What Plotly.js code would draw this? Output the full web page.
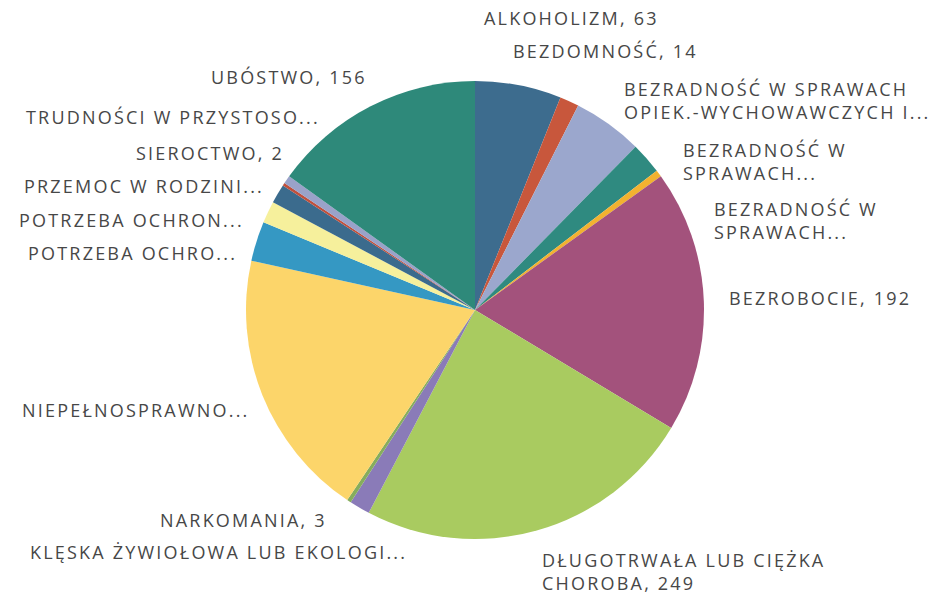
<!DOCTYPE html>
<html>
<head>
<meta charset="utf-8">
<script src="https://cdn.plot.ly/plotly-3.0.1.min.js"></script>
<style>html,body{margin:0;padding:0;background:#fff;}#chart{width:939px;height:595px;}
.annotation-text{letter-spacing:2.2px;}</style>
</head>
<body>
<div id="chart"></div>
<script>
// Data (clockwise from 12 o'clock)
const categories = [
  "ALKOHOLIZM",
  "BEZDOMNOŚĆ",
  "BEZRADNOŚĆ W SPRAWACH OPIEK.-WYCHOWAWCZYCH I PROWADZENIA GOSPODARSTWA DOMOWEGO",
  "BEZRADNOŚĆ W SPRAWACH OPIEK.-WYCHOWAWCZYCH - RODZINA NIEPEŁNA",
  "BEZRADNOŚĆ W SPRAWACH OPIEK.-WYCHOWAWCZYCH - RODZINA WIELODZIETNA",
  "BEZROBOCIE",
  "DŁUGOTRWAŁA LUB CIĘŻKA CHOROBA",
  "KLĘSKA ŻYWIOŁOWA LUB EKOLOGICZNA",
  "NARKOMANIA",
  "NIEPEŁNOSPRAWNOŚĆ",
  "POTRZEBA OCHRONY MACIERZYŃSTWA",
  "POTRZEBA OCHRONY MACIERZYŃSTWA - WIELODZIETNOŚĆ",
  "PRZEMOC W RODZINIE",
  "SIEROCTWO",
  "TRUDNOŚCI W PRZYSTOSOWANIU DO ŻYCIA PO ZWOLNIENIU Z ZAKŁADU KARNEGO",
  "UBÓSTWO"
];
const values = [63, 14, 51, 23, 5, 192, 249, 15, 3, 197, 29, 16, 14, 2, 6, 156];
const labelTexts = [
  "ALKOHOLIZM, 63",
  "BEZDOMNOŚĆ, 14",
  "BEZRADNOŚĆ W SPRAWACH<br>OPIEK.-WYCHOWAWCZYCH I...",
  "BEZRADNOŚĆ W<br>SPRAWACH...",
  "BEZRADNOŚĆ W<br>SPRAWACH...",
  "BEZROBOCIE, 192",
  "DŁUGOTRWAŁA LUB CIĘŻKA<br>CHOROBA, 249",
  "KLĘSKA ŻYWIOŁOWA LUB EKOLOGI...",
  "NARKOMANIA, 3",
  "NIEPEŁNOSPRAWNO...",
  "POTRZEBA OCHRO...",
  "POTRZEBA OCHRON...",
  "PRZEMOC W RODZINI...",
  "SIEROCTWO, 2",
  "TRUDNOŚCI W PRZYSTOSO...",
  "UBÓSTWO, 156"
];

// Styles / layout (not data)
const colors = ["#3d6c8e","#c8573c","#9ba7cd","#2f8a80","#f2b230","#a3527c","#a9cb60","#8a7bb8","#86ad5c","#fcd56a","#3598c3","#f6f09c","#3b6b8d","#c0503c","#9aa2c9","#2e897a"];
// [x px, y px, anchor]
const labelPos = [
  [483, 18, "left"], [512, 51, "left"], [623, 100, "left"], [682, 162, "left"],
  [713, 220, "left"], [728, 298, "left"], [541, 571, "left"], [408, 552, "right"],
  [328, 520, "right"], [251, 410, "right"], [238, 253, "right"], [245, 220, "right"],
  [265, 186, "right"], [285, 153, "right"], [321, 117, "right"], [368, 77, "right"]
];

const W = 939, H = 595;
const cx = 475, cy = 310, r = 229;

const annotations = labelTexts.map((t, i) => ({
  text: t,
  xref: "paper", yref: "paper",
  x: labelPos[i][0] / W,
  y: 1 - labelPos[i][1] / H,
  xanchor: labelPos[i][2],
  yanchor: "middle",
  align: "left",
  showarrow: false,
  borderpad: 0,
  font: {family: "Open Sans, sans-serif", size: 18, color: "#474747"}
}));

const trace = {
  type: "pie",
  labels: categories,
  values: values,
  sort: false,
  direction: "clockwise",
  rotation: 0,
  textinfo: "none",
  hoverinfo: "label+value",
  marker: {colors: colors, line: {width: 0}},
  domain: {x: [(cx - r) / W, (cx + r) / W], y: [1 - (cy + r) / H, 1 - (cy - r) / H]}
};

Plotly.newPlot("chart", [trace], {
  width: W, height: H,
  margin: {l: 0, r: 0, t: 0, b: 0},
  showlegend: false,
  paper_bgcolor: "#ffffff",
  annotations: annotations
}, {displayModeBar: false, staticPlot: true});
</script>
</body>
</html>
